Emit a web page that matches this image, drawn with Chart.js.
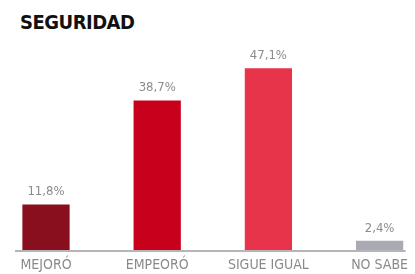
<!DOCTYPE html>
<html>
<head>
<meta charset="utf-8">
<script src="https://cdn.jsdelivr.net/npm/chart.js@4.4.1/dist/chart.umd.min.js"></script>
<style>
  html, body { margin: 0; padding: 0; background: #fff; }
  .wrap { position: relative; width: 415px; height: 274px; }
  .title {
    position: absolute; left: 20px; top: 10px; margin: 0;
    font-family: 'DejaVu Sans Condensed', sans-serif;
    font-weight: bold; font-size: 20px; color: #111; letter-spacing: -0.5px;
  }
  canvas { position: absolute; left: 0; top: 0; }
</style>
</head>
<body>
<div class="wrap">
  <h1 class="title">SEGURIDAD</h1>
  <canvas id="chart" width="415" height="274"></canvas>
</div>
<script>
const categories = ['MEJORÓ', 'EMPEORÓ', 'SIGUE IGUAL', 'NO SABE'];
const values = [11.8, 38.7, 47.1, 2.4];
const valueLabels = ['11,8%', '38,7%', '47,1%', '2,4%'];
const barColors = ['#8a0f1e', '#c8001c', '#e8344a', '#a9aab2'];

const labelFont = "'DejaVu Sans Condensed', sans-serif";

// gray base line, wider than the chart area
const baseLine = {
  id: 'baseLine',
  beforeDatasetsDraw(chart) {
    const { ctx, chartArea } = chart;
    ctx.save();
    ctx.strokeStyle = '#b5b5b8';
    ctx.lineWidth = 2;
    ctx.beginPath();
    ctx.moveTo(chartArea.left - 31, chartArea.bottom + 1);
    ctx.lineTo(chartArea.right + 26, chartArea.bottom + 1);
    ctx.stroke();
    ctx.restore();
  },
};

// percent labels above each bar
const valueText = {
  id: 'valueText',
  afterDatasetsDraw(chart) {
    const { ctx } = chart;
    const meta = chart.getDatasetMeta(0);
    ctx.save();
    ctx.font = `13px ${labelFont}`;
    ctx.fillStyle = '#8c8c8c';
    ctx.textAlign = 'center';
    ctx.textBaseline = 'bottom';
    meta.data.forEach((bar, i) => {
      ctx.fillText(valueLabels[i], bar.x, bar.y - 6);
    });
    ctx.restore();
  },
};

new Chart(document.getElementById('chart'), {
  type: 'bar',
  data: {
    labels: categories,
    datasets: [
      {
        data: values,
        backgroundColor: barColors,
        borderWidth: 0,
        barPercentage: 0.425,
        categoryPercentage: 1,
        clip: false,
      },
    ],
  },
  options: {
    responsive: false,
    animation: false,
    layout: { padding: { left: 46, right: 30, top: 57, bottom: 0 } },
    plugins: {
      legend: { display: false },
      tooltip: { enabled: false },
    },
    scales: {
      x: {
        offset: false,
        grid: { display: false, drawTicks: false },
        border: { display: false },
        afterFit(scale) {
          scale.height = 24;
        },
        ticks: {
          color: '#8a8a8a',
          padding: 7,
          maxRotation: 0,
          font: { family: labelFont, size: 14 },
        },
      },
      y: {
        display: false,
        min: 0,
        max: 50,
      },
    },
  },
  plugins: [baseLine, valueText],
});
</script>
</body>
</html>
